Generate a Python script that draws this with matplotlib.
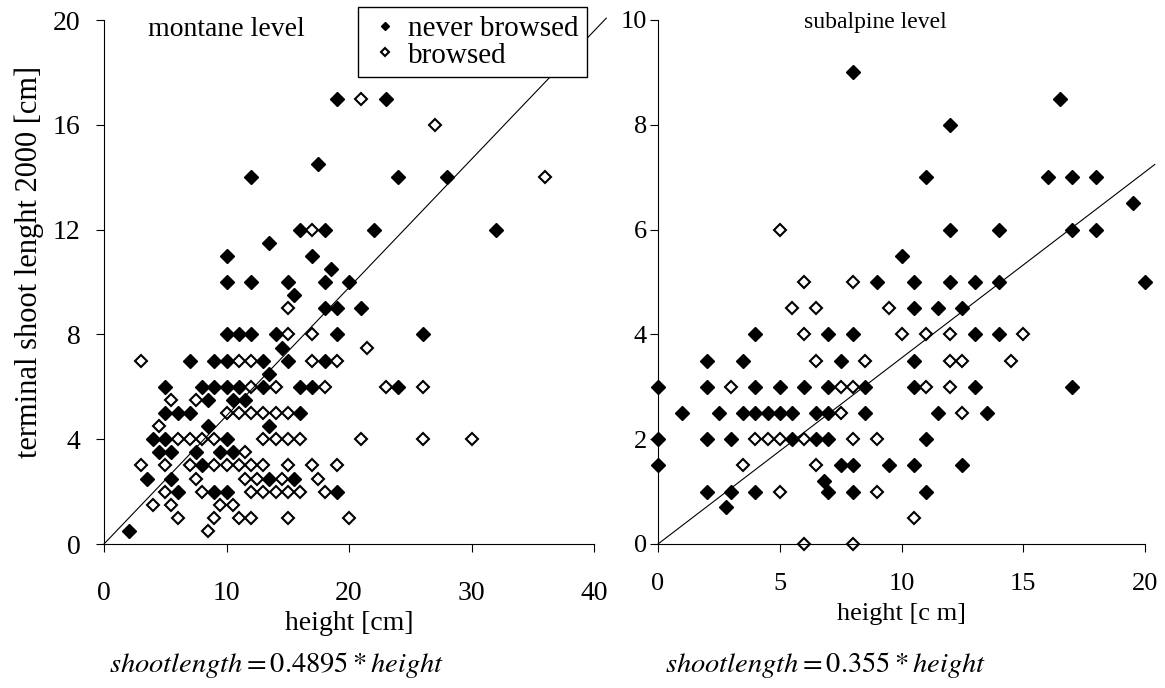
import matplotlib.pyplot as plt
import numpy as np

plt.rcParams['font.family'] = 'Liberation Serif'
plt.rcParams['mathtext.fontset'] = 'stix'

# montane level, never browsed
mont_never_h = [19, 23, 17.5, 12, 24, 28, 16, 18, 22, 32, 13.5, 10, 17, 18.5,
                10, 12, 15, 18, 20, 15.5, 18, 19, 21,
                10, 11, 12, 14, 19, 26, 14.5, 7, 9, 10, 13, 15, 18, 13.5,
                5, 8, 9, 10, 11, 13, 16, 17, 24, 8.5, 10.5, 11.5, 5, 6, 7, 16,
                8.5, 13.5, 4, 5, 10, 4.5, 5.5, 7.5, 9.5, 10.5, 8,
                3.5, 5.5, 13.5, 15.5, 6, 9, 10, 19, 2]
mont_never_s = [17, 17, 14.5, 14, 14, 14, 12, 12, 12, 12, 11.5, 11, 11, 10.5,
                10, 10, 10, 10, 10, 9.5, 9, 9, 9,
                8, 8, 8, 8, 8, 8, 7.5, 7, 7, 7, 7, 7, 7, 6.5,
                6, 6, 6, 6, 6, 6, 6, 6, 6, 5.5, 5.5, 5.5, 5, 5, 5, 5,
                4.5, 4.5, 4, 4, 4, 3.5, 3.5, 3.5, 3.5, 3.5, 3,
                2.5, 2.5, 2.5, 2.5, 2, 2, 2, 2, 0.5]

# montane level, browsed
mont_brow_h = [21, 27, 36, 17, 15, 15, 17, 21.5, 3, 11, 12, 17, 19,
               12, 14, 18, 23, 26, 5.5, 7.5, 10, 11, 12, 13, 14, 15, 4.5,
               6, 7, 8, 9, 13, 14, 15, 16, 21, 26, 30, 11.5,
               3, 5, 7, 9, 10, 11, 12, 13, 15, 17, 19,
               7.5, 11.5, 12.5, 14.5, 17.5, 5, 8, 12, 13, 14, 15, 16, 18,
               4, 5.5, 9.5, 10.5, 6, 9, 11, 12, 15, 20, 8.5]
mont_brow_s = [17, 16, 14, 12, 9, 8, 8, 7.5, 7, 7, 7, 7, 7,
               6, 6, 6, 6, 6, 5.5, 5.5, 5, 5, 5, 5, 5, 5, 4.5,
               4, 4, 4, 4, 4, 4, 4, 4, 4, 4, 4, 3.5,
               3, 3, 3, 3, 3, 3, 3, 3, 3, 3, 3,
               2.5, 2.5, 2.5, 2.5, 2.5, 2, 2, 2, 2, 2, 2, 2, 2,
               1.5, 1.5, 1.5, 1.5, 1, 1, 1, 1, 1, 1, 0.5]

# subalpine level, never browsed
sub_never_h = [8, 16.5, 12, 11, 16, 17, 18, 19.5, 12, 14, 17, 18, 10,
               9, 10.5, 12, 13, 14, 20, 10.5, 11.5, 12.5, 4, 7, 8, 13, 14,
               2, 3.5, 7.5, 10.5, 0, 2, 4, 5, 6, 7, 8.5, 10.5, 13, 17,
               1, 2.5, 3.5, 4, 4.5, 5, 5.5, 6.5, 7, 8.5, 11.5, 13.5,
               0, 2, 3, 5.5, 6.5, 7, 11, 0, 7.5, 8, 9.5, 10.5, 12.5, 6.8,
               2, 3, 4, 7, 8, 11, 2.8]
sub_never_s = [9, 8.5, 8, 7, 7, 7, 7, 6.5, 6, 6, 6, 6, 5.5,
               5, 5, 5, 5, 5, 5, 4.5, 4.5, 4.5, 4, 4, 4, 4, 4,
               3.5, 3.5, 3.5, 3.5, 3, 3, 3, 3, 3, 3, 3, 3, 3, 3,
               2.5, 2.5, 2.5, 2.5, 2.5, 2.5, 2.5, 2.5, 2.5, 2.5, 2.5, 2.5,
               2, 2, 2, 2, 2, 2, 2, 1.5, 1.5, 1.5, 1.5, 1.5, 1.5, 1.2,
               1, 1, 1, 1, 1, 1, 0.7]

# subalpine level, browsed
sub_brow_h = [5, 6, 8, 5.5, 6.5, 9.5, 6, 10, 11, 12, 15, 6.5, 8.5, 12, 12.5, 14.5,
              3, 7.5, 8, 11, 12, 7.5, 12.5, 4, 4.5, 5, 6, 8, 9,
              3.5, 6.5, 5, 9, 10.5, 6, 8]
sub_brow_s = [6, 5, 5, 4.5, 4.5, 4.5, 4, 4, 4, 4, 4, 3.5, 3.5, 3.5, 3.5, 3.5,
              3, 3, 3, 3, 3, 2.5, 2.5, 2, 2, 2, 2, 2, 2,
              1.5, 1.5, 1, 1, 0.5, 0, 0]

mont_slope = 0.4895
sub_slope = 0.355

fig = plt.figure(figsize=(11.65, 6.88), dpi=100)
ax1 = fig.add_axes([104/1165, 144/688, 490/1165, 524/688])
ax2 = fig.add_axes([658/1165, 144/688, 487/1165, 524/688])

for ax, nh, ns, bh, bs in [(ax1, mont_never_h, mont_never_s, mont_brow_h, mont_brow_s),
                           (ax2, sub_never_h, sub_never_s, sub_brow_h, sub_brow_s)]:
    ax.plot(nh, ns, 'D', ms=7, color='black', ls='none', clip_on=False,
            label='never browsed')
    ax.plot(bh, bs, 'D', ms=6.5, mfc='white', mec='black', mew=1.5, ls='none',
            clip_on=False, label='browsed')
    for side in ['top', 'right']:
        ax.spines[side].set_visible(False)
    for side in ['left', 'bottom']:
        ax.spines[side].set_linewidth(0.8)

xl = np.array([0, 41.0])
ax1.plot(xl, mont_slope*xl, color='black', lw=0.8, clip_on=False)
xr = np.array([0, 20.4])
ax2.plot(xr, sub_slope*xr, color='black', lw=0.8, clip_on=False)

ax1.set_xlim(0, 40)
ax1.set_ylim(0, 20)
ax1.set_xticks(np.arange(0, 41, 10))
ax1.set_yticks(np.arange(0, 21, 4))
ax1.tick_params(axis='both', direction='out', length=6, width=0.8, labelsize=20)
ax1.tick_params(axis='x', pad=21)
ax1.tick_params(axis='y', pad=11)

ax2.set_xlim(0, 20)
ax2.set_ylim(0, 10)
ax2.set_xticks(np.arange(0, 21, 5))
ax2.set_yticks(np.arange(0, 11, 2))
ax2.tick_params(axis='both', direction='out', length=6, width=0.8, labelsize=19)
ax2.tick_params(axis='x', pad=15)
ax2.tick_params(axis='y', pad=2)

ax1.set_xlabel('height [cm]', fontsize=20, va='center')
ax1.xaxis.set_label_coords(0.5, -0.151)
ax2.set_xlabel('height [c m]', fontsize=19, va='center')
ax2.xaxis.set_label_coords(0.5, -0.133)
ax1.set_ylabel('terminal shoot lenght 2000 [cm]', fontsize=22, va='center')
ax1.yaxis.set_label_coords(-0.153, 0.538)

ax1.text(0.249, 0.981, 'montane level', transform=ax1.transAxes,
         fontsize=20, ha='center', va='center')
ax2.text(0.446, 0.996, 'subalpine level', transform=ax2.transAxes,
         fontsize=17, ha='center', va='center')

ax1.legend(loc='upper left', bbox_to_anchor=(358/1165, 1 - 7/688),
           bbox_transform=fig.transFigure, frameon=True, fancybox=False,
           edgecolor='black', framealpha=1, fontsize=21, markerscale=0.65,
           handlelength=1.25, handletextpad=0.15, borderpad=0.3,
           borderaxespad=0, labelspacing=0.0)

fig.text(277/1165, 1 - 665/688, r'$\mathit{shootlength} = 0.4895 * \mathit{height}$',
         fontsize=20.5, ha='center', va='center')
fig.text(826/1165, 1 - 665/688, r'$\mathit{shootlength} = 0.355 * \mathit{height}$',
         fontsize=20.5, ha='center', va='center')

fig.savefig('out.png', dpi=100)
